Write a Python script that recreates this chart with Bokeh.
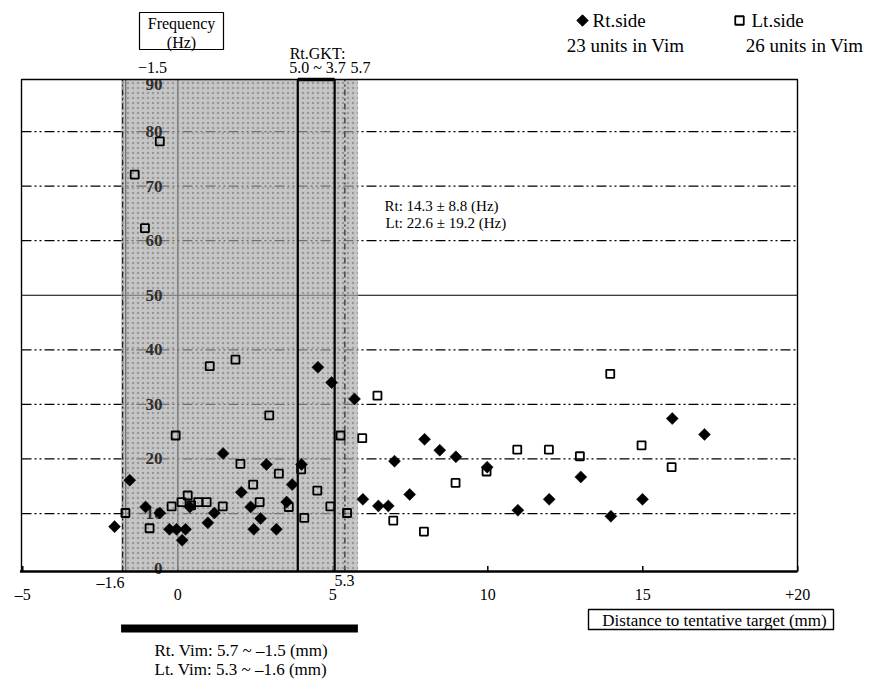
import numpy as np
from bokeh.plotting import figure
from bokeh.models import Range1d
from bokeh.core.properties import value
from bokeh.embed import file_html
from bokeh.resources import INLINE

# ---------------- data ----------------
rt_x = [-2.04, -1.55, -1.04, -0.58, -0.27, -0.04, 0.25, 0.14, 0.39, 0.97, 1.18, 1.46,
        2.05, 2.35, 2.45, 2.67, 2.86, 3.18, 3.51, 3.69, 3.99, 4.52, 4.96, 5.70, 5.97,
        6.47, 6.79, 6.99, 7.48, 7.96, 8.45, 8.97, 9.98, 10.97, 11.98, 13.0, 13.97,
        14.99, 15.95, 16.99]
rt_y = [7.6, 16.1, 11.2, 10.1, 7.1, 7.1, 7.1, 5.1, 11.2, 8.3, 10.1, 21.0,
        13.9, 11.2, 7.1, 9.1, 19.0, 7.1, 12.1, 15.3, 19.0, 36.8, 34.0, 31.0, 12.6,
        11.4, 11.4, 19.6, 13.5, 23.6, 21.6, 20.4, 18.5, 10.6, 12.6, 16.7, 9.5,
        12.6, 27.4, 24.5]
lt_x = [-1.69, -0.91, -0.20, -0.07, 0.12, 0.32, 0.43, 0.66, 0.93, 1.03, 1.45, 1.86,
        2.02, 2.43, 2.64, 2.95, 3.26, 3.58, 3.98, 4.08, 4.50, 4.92, 5.25, 5.46, 5.95,
        -0.58, -1.39, -1.06, 6.44, 6.95, 7.94, 8.96, 9.96, 10.95, 11.97, 12.97,
        13.95, 14.96, 15.93]
lt_y = [10.1, 7.3, 11.3, 24.3, 12.1, 13.3, 11.5, 12.1, 12.1, 37.0, 11.3, 38.2,
        19.1, 15.3, 12.1, 28.0, 17.3, 11.2, 18.1, 9.2, 14.2, 11.3, 24.3, 10.1, 23.8,
        78.2, 72.1, 62.3, 31.6, 8.7, 6.7, 15.6, 17.7, 21.7, 21.7, 20.5,
        35.6, 22.5, 18.5]

x_ticks = [-5, 0, 5, 10, 15, 20]
x_tick_labels = ["\u20135", "0", "5", "10", "15", "+20"]
y_ticks = [0, 10, 20, 30, 40, 50, 60, 70, 80, 90]
y_tick_labels = ["0", "10", "20", "30", "40", "50", "60", "70", "80", "90"]
grid_dashdot = [10, 20, 30, 40, 60, 70, 80]
grid_solid = [50]

vim_span = (-1.83, 5.81)     # shaded Vim region as drawn
vim_inner_left = -1.68
gkt_span = (3.87, 5.06)      # Rt.GKT lines as drawn
lt_vim_right = 5.39

# ---------------- layout helpers ----------------
W, H = 872, 681
PAGE = 0
X0_PX, SX = 177.3, 31.0      # px of x=0, px per unit
Y0_PX, SY = 567.6, 5.457     # px of y=0, px per unit


def X(px):
    return (px - X0_PX) / SX


def Y(py):
    return (Y0_PX - py) / SY


XL, XR = X(21), X(797)
YB, YT = Y(571), Y(79)

SERIF = value("Liberation Serif")

p = figure(width=W, height=H,
           x_range=Range1d(X(PAGE), X(PAGE + W)),
           y_range=Range1d(Y(PAGE + H), Y(PAGE)),
           x_axis_type=None, y_axis_type=None,
           output_backend="svg", toolbar_location=None,
           min_border=0, outline_line_color=None,
           background_fill_color="white", border_fill_color="white")


def txt(x, y, s, size, align="center", baseline="middle", style="normal", color="black", font=SERIF):
    p.text(x=[x], y=[y], text=[s], text_font=font, text_font_size=value(f"{size}px"),
           text_align=align, text_baseline=baseline, text_font_style=style, text_color=color)


# grid lines
for g in grid_dashdot:
    p.line([XL, XR], [g, g], line_color="black", line_width=1.3, line_dash="10 3 2 3 2 3")
for g in grid_solid:
    p.line([XL, XR], [g, g], line_color="black", line_width=1.1)

# vertical lines under the shading
p.segment(x0=[0, vim_inner_left], y0=[YB, YB], x1=[0, vim_inner_left], y1=[YT, YT],
          line_color="black", line_width=1.3)

# x ticks
p.segment(x0=x_ticks, y0=[YB] * len(x_ticks), x1=x_ticks, y1=[YB + 1.0] * len(x_ticks),
          line_color="black", line_width=1.5)

# shaded Vim region
p.quad(left=[vim_span[0]], right=[vim_span[1]], bottom=[YB], top=[YT],
       fill_color="#a8a8a8", fill_alpha=0.66, line_color=None,
       hatch_pattern="dot", hatch_color="#8c8c8c", hatch_scale=5, hatch_weight=1, hatch_alpha=0.8)

# y tick labels inside the shading (top one sits just under the frame line)
for v, lab in zip(y_ticks, y_tick_labels):
    txt(X(162), min(v, Y(84)), lab, 17, align="right", style="bold", color="#2e2e2e")

# GKT lines and Lt Vim dash-dot edge
p.segment(x0=list(gkt_span), y0=[YB, YB], x1=list(gkt_span), y1=[YT, YT],
          line_color="black", line_width=2.2)
p.line(list(gkt_span), [YT, YT], line_color="black", line_width=3.5)
p.segment(x0=[lt_vim_right, vim_span[0] + 0.05], y0=[YB, YB],
          x1=[lt_vim_right, vim_span[0] + 0.05], y1=[YT, YT],
          line_color="#222222", line_width=1.2, line_dash="6 3 2 3")

# frame
p.line([XL, XL, XR, XR], [YB, YT, YT, YB], line_color="black", line_width=1.4)
p.line([XL - 0.05, XR], [YB, YB], line_color="black", line_width=2.4)

# data
p.scatter(lt_x, lt_y, marker="square", size=8, line_color="black", line_width=1.8,
          fill_alpha=0)
p.scatter(rt_x, rt_y, marker="square", angle=np.pi / 4, size=8.5, line_color="black",
          fill_color="black", line_width=0.5)

# x tick labels
for v, lab in zip(x_ticks, x_tick_labels):
    txt(v, Y(594), lab, 16)
txt(X(124), Y(582), "\u20131.6", 16, align="right")
txt(X(344), Y(580), "5.3", 16)

# top labels
p.quad(left=[X(139)], right=[X(223)], top=[Y(12)], bottom=[Y(49)],
       fill_color="white", line_color="black", line_width=1.2)
txt(X(181), Y(23), "Frequency", 16)
txt(X(181), Y(42), "(Hz)", 16)
txt(X(152), Y(67), "\u22121.5", 16)
txt(X(317), Y(53), "Rt.GKT:", 16)
txt(X(317), Y(67), "5.0 ~ 3.7", 16)
txt(X(360), Y(67), "5.7", 16)

# legend
p.scatter([X(582)], [Y(20)], marker="square", angle=np.pi / 4, size=8, color="black")
txt(X(592), Y(20), "Rt.side", 19, align="left")
txt(X(625), Y(45), "23 units in Vim", 19)
p.scatter([X(739)], [Y(20)], marker="square", size=8.5, line_color="black", line_width=1.8,
          fill_alpha=0)
txt(X(751), Y(20), "Lt.side", 19, align="left")
txt(X(804), Y(45), "26 units in Vim", 19)

# mean annotation
txt(X(384), Y(205), "Rt: 14.3 \u00b1 8.8 (Hz)", 15, align="left")
txt(X(385), Y(222), "Lt: 22.6 \u00b1 19.2 (Hz)", 15, align="left")

# bottom bar and Vim labels
p.quad(left=[vim_span[0]], right=[vim_span[1]], top=[Y(624)], bottom=[Y(632)],
       fill_color="black", line_color=None)
txt(X(154), Y(650), "Rt. Vim: 5.7 ~  \u20131.5 (mm)", 17, align="left")
txt(X(154), Y(669), "Lt. Vim: 5.3 ~  \u20131.6 (mm)", 17, align="left")

# x-axis title box
p.quad(left=[X(588)], right=[X(833)], top=[Y(609)], bottom=[Y(629)],
       fill_color="white", line_color="black", line_width=1.4)
txt(X(714), Y(619.5), "Distance to tentative target (mm)", 17)

open("out.html", "w").write(file_html(p, INLINE))
